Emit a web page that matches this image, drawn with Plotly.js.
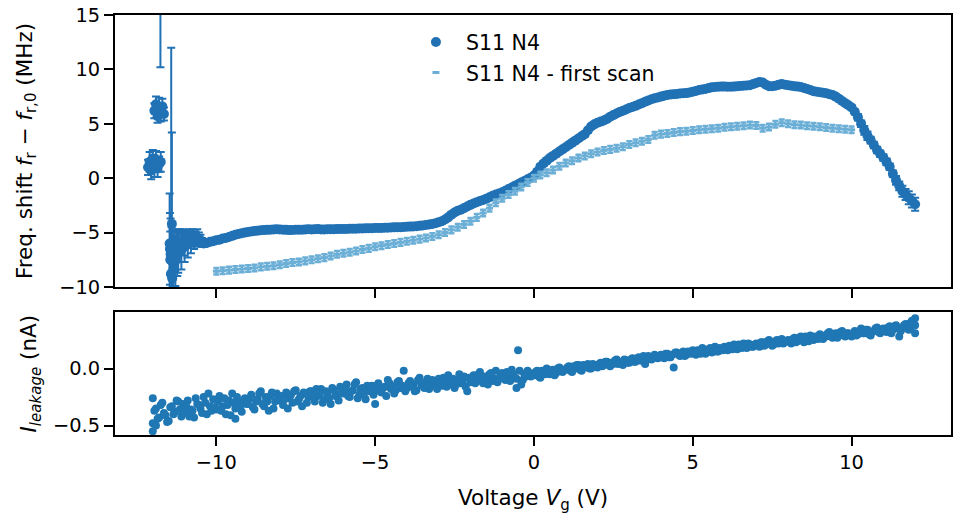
<!DOCTYPE html>
<html>
<head>
<meta charset="utf-8">
<script src="https://cdn.plot.ly/plotly-3.0.1.min.js"></script>
<style>html,body{margin:0;padding:0;background:#fff;}#chart{width:953px;height:514px;}</style>
</head>
<body>
<div id="chart"></div>
<script>
// ---------- DATA ----------
// S11 N4: irregular points at the left end (x, y, error)
const darkEdgeX = [-12.15,-12.1,-12.05,-12.0,-11.95,-11.9,-11.85,-11.8,-11.75,
  -11.95,-11.9,-11.85,-11.8,-11.75,-11.7,-11.65,
  -11.76,-11.42,-11.40,
  -11.47,-11.46,-11.45,-11.44,-11.43,-11.41,-11.39,-11.37,-11.35,-11.32,-11.29,-11.26,-11.23,-11.2,-11.15,-11.1,-11.05,-11.0,
  -10.95,-10.9,-10.85,-10.8,-10.75,-10.7,-10.65,-10.6,-10.55,-10.5,-10.45,-10.4];
const darkEdgeY = [1.0,1.5,0.7,1.8,1.1,1.6,0.9,1.3,1.5,
  6.2,6.8,5.7,6.5,6.0,6.6,5.9,
  22,-6.0,-4.2,
  -6.0,-6.5,-7.5,-7.0,-8.8,-6.5,-9.2,-7.0,-8.3,-6.2,-7.6,-5.8,-7.0,-6.7,-6.2,-6.6,-5.9,-6.3,
  -5.6,-6.1,-5.5,-5.9,-5.4,-5.7,-5.5,-5.5,-5.6,-5.7,-5.9,-6.0];
const darkEdgeErr = [0.7,0.9,0.8,0.8,1.0,0.9,0.8,0.7,0.9,
  0.7,0.7,0.6,0.9,0.8,0.7,0.6,
  11.8,18,8.4,
  4.6,3.3,2.6,3.3,1.5,2.0,1.3,2.3,1.6,1.4,2.3,1.0,2.0,2.0,1.5,1.8,1.2,1.4,
  0.8,1.2,0.8,1.0,0.7,0.8,0.6,0.8,0.6,0.5,0.4,0.3];
// S11 N4: regular sweep from -10.3 V to 12.0 V in 0.1 V steps
const darkStart = -10.3, darkStep = 0.1;
const darkY = [
  -5.95,-5.85,-5.8,-5.7,-5.65,-5.55,-5.5,-5.4,-5.3,-5.2,
  -5.12,-5.05,-5.0,-4.95,-4.9,-4.85,-4.82,-4.78,-4.77,-4.75,
  -4.73,-4.72,-4.7,-4.72,-4.74,-4.75,-4.77,-4.76,-4.74,-4.74,
  -4.73,-4.72,-4.7,-4.71,-4.7,-4.68,-4.72,-4.71,-4.7,-4.7,
  -4.69,-4.68,-4.67,-4.66,-4.66,-4.65,-4.64,-4.64,-4.63,-4.62,
  -4.61,-4.6,-4.6,-4.58,-4.58,-4.57,-4.56,-4.55,-4.53,-4.52,
  -4.51,-4.5,-4.48,-4.47,-4.45,-4.43,-4.41,-4.38,-4.34,-4.3,
  -4.25,-4.2,-4.13,-4.05,-3.95,-3.8,-3.6,-3.35,-3.15,-3.0,
  -2.9,-2.75,-2.6,-2.45,-2.32,-2.2,-2.1,-2.0,-1.88,-1.75,
  -1.62,-1.5,-1.4,-1.3,-1.15,-1.0,-0.85,-0.7,-0.55,-0.4,
  -0.25,-0.1,0.05,0.25,0.6,1.05,1.35,1.6,1.85,2.05,
  2.25,2.45,2.65,2.85,3.05,3.25,3.45,3.65,3.85,4.05,
  4.4,4.75,4.95,5.1,5.2,5.3,5.45,5.65,5.8,5.95,
  6.08,6.2,6.32,6.45,6.55,6.65,6.78,6.9,7.02,7.15,
  7.25,7.35,7.42,7.5,7.58,7.65,7.7,7.72,7.75,7.78,
  7.8,7.82,7.88,7.95,8.02,8.1,8.15,8.2,8.28,8.35,
  8.38,8.4,8.42,8.42,8.4,8.4,8.42,8.45,8.48,8.5,
  8.52,8.55,8.65,8.75,8.85,8.8,8.6,8.45,8.45,8.5,
  8.58,8.65,8.6,8.55,8.5,8.45,8.42,8.38,8.3,8.2,
  8.1,8.0,7.95,7.9,7.85,7.8,7.72,7.65,7.5,7.3,
  7.1,6.9,6.7,6.5,6.1,5.6,5.0,4.4,3.9,3.5,
  3.05,2.6,2.25,1.9,1.5,1.05,0.4,-0.2,-0.7,-1.2,
  -1.5,-1.8,-2.1,-2.4];
const darkErrBody = 0.2;          // error on the smooth part of the sweep
const darkErrTail = [0.3,0.3,0.4,0.4,0.3,0.3,0.3,0.3,0.3,0.3,
  0.3,0.3,0.4,0.4,0.5,0.5,0.6,0.6,0.6];   // 10.2 V .. 12.0 V
// S11 N4 - first scan: -10.0 V to 10.0 V in 0.2 V steps
const lightStart = -10.0, lightStep = 0.2;
const lightY = [-8.55,-8.5,-8.45,-8.4,-8.35,-8.3,-8.25,-8.15,-8.1,-8.05,
  -7.95,-7.85,-7.75,-7.7,-7.6,-7.5,-7.4,-7.3,-7.15,-7.0,
  -6.9,-6.8,-6.7,-6.55,-6.45,-6.3,-6.2,-6.1,-6.0,-5.9,
  -5.8,-5.7,-5.6,-5.5,-5.35,-5.2,-5.0,-4.75,-4.5,-4.25,
  -3.95,-3.6,-3.2,-2.75,-2.25,-1.85,-1.5,-1.2,-0.8,-0.4,
  0.0,0.3,0.5,0.75,1.1,1.4,1.6,1.85,2.05,2.25,
  2.4,2.55,2.65,2.75,2.9,3.1,3.25,3.4,3.55,3.95,
  4.05,4.1,4.2,4.28,4.32,4.38,4.45,4.5,4.55,4.6,
  4.68,4.72,4.78,4.82,4.88,4.85,4.6,4.7,4.95,5.1,
  5.0,4.92,4.88,4.82,4.78,4.72,4.65,4.6,4.55,4.5,
  4.45];
const lightErr = 0.3;
// Leakage current, first pass: -12.0 V to 12.0 V in 0.1 V steps
const leakStart = -12.0, leakStep = 0.1;
const leakY = [
  -0.48,-0.35,-0.43,-0.30,-0.41,-0.46,-0.33,-0.38,-0.29,-0.42,
  -0.39,-0.28,-0.36,-0.43,-0.31,-0.35,-0.25,-0.40,-0.33,-0.27,
  -0.36,-0.24,-0.33,-0.40,-0.28,-0.22,-0.35,-0.30,-0.38,-0.26,
  -0.31,-0.23,-0.36,-0.27,-0.20,-0.33,-0.29,-0.24,-0.35,-0.22,
  -0.28,-0.32,-0.21,-0.26,-0.30,-0.19,-0.27,-0.33,-0.22,-0.25,
  -0.20,-0.29,-0.24,-0.18,-0.27,-0.22,-0.31,-0.19,-0.23,-0.16,
  -0.22,-0.14,-0.25,-0.19,-0.12,-0.23,-0.17,-0.27,-0.20,-0.15,
  -0.19,-0.13,-0.21,-0.16,-0.10,-0.18,-0.22,-0.12,-0.17,-0.02,
  -0.17,-0.11,-0.14,-0.19,-0.08,-0.15,-0.12,-0.18,-0.10,-0.14,
  -0.09,-0.15,-0.12,-0.06,-0.14,-0.17,-0.10,-0.13,-0.07,-0.20,
  -0.12,-0.06,-0.10,-0.03,-0.13,-0.08,-0.05,-0.11,-0.02,-0.09,
  -0.04,-0.10,-0.06,-0.01,-0.08,0.16,-0.14,-0.05,-0.02,-0.07,
  -0.06,-0.02,-0.08,-0.03,0.00,-0.05,-0.01,-0.04,0.01,-0.03,
  -0.01,0.02,-0.03,0.00,0.03,-0.02,0.01,0.04,0.00,0.02,
  0.01,0.05,0.03,0.06,0.02,0.04,0.08,0.05,0.03,0.07,
  0.05,0.09,0.06,0.10,0.07,0.04,0.11,0.08,0.12,0.09,
  0.12,0.09,0.13,0.10,0.01,0.14,0.11,0.15,0.12,0.14,
  0.16,0.12,0.15,0.18,0.13,0.17,0.14,0.19,0.15,0.17,
  0.19,0.16,0.18,0.21,0.17,0.20,0.22,0.18,0.21,0.19,
  0.22,0.19,0.23,0.21,0.25,0.20,0.24,0.22,0.26,0.23,
  0.25,0.22,0.27,0.24,0.28,0.23,0.26,0.29,0.25,0.27,
  0.30,0.26,0.28,0.32,0.27,0.31,0.29,0.33,0.28,0.31,
  0.28,0.33,0.30,0.35,0.31,0.34,0.29,0.33,0.36,0.31,
  0.35,0.32,0.37,0.34,0.38,0.28,0.36,0.39,0.34,0.37,
  0.44];
// Leakage current, second pass: -11.95 V to 11.95 V in 0.1 V steps
const leak2Start = -11.95, leak2Step = 0.1;
const leak2Y = [
  -0.37,-0.44,-0.32,-0.39,-0.47,-0.34,-0.40,-0.28,-0.36,-0.31,
  -0.33,-0.42,-0.37,-0.26,-0.32,-0.39,-0.30,-0.22,-0.37,-0.34,
  -0.29,-0.37,-0.26,-0.32,-0.41,-0.30,-0.25,-0.34,-0.28,-0.31,
  -0.26,-0.34,-0.29,-0.22,-0.31,-0.25,-0.37,-0.21,-0.29,-0.26,
  -0.24,-0.27,-0.35,-0.23,-0.20,-0.29,-0.24,-0.21,-0.30,-0.20,
  -0.25,-0.18,-0.22,-0.30,-0.20,-0.26,-0.17,-0.24,-0.28,-0.21,
  -0.18,-0.24,-0.20,-0.14,-0.26,-0.18,-0.22,-0.15,-0.19,-0.23,
  -0.15,-0.20,-0.17,-0.24,-0.13,-0.16,-0.19,-0.11,-0.15,-0.20,
  -0.13,-0.16,-0.20,-0.10,-0.14,-0.17,-0.09,-0.15,-0.12,-0.18,
  -0.13,-0.08,-0.16,-0.11,-0.09,-0.14,-0.05,-0.12,-0.16,-0.08,
  -0.09,-0.13,-0.05,-0.11,-0.07,-0.14,-0.04,-0.09,-0.12,-0.06,
  -0.08,-0.03,-0.11,-0.05,-0.09,-0.02,-0.10,-0.07,-0.04,-0.06,
  -0.03,-0.07,-0.02,-0.05,-0.01,-0.04,-0.06,0.00,-0.02,-0.01,
  0.01,-0.02,0.02,0.03,-0.01,0.03,0.02,0.00,0.04,0.03,
  0.04,0.02,0.06,0.03,0.05,0.07,0.04,0.06,0.08,0.05,
  0.08,0.06,0.09,0.07,0.11,0.08,0.10,0.09,0.11,0.10,
  0.11,0.13,0.10,0.12,0.14,0.12,0.13,0.11,0.15,0.13,
  0.14,0.16,0.13,0.17,0.15,0.18,0.16,0.15,0.18,0.16,
  0.18,0.20,0.17,0.19,0.21,0.18,0.20,0.22,0.19,0.21,
  0.21,0.23,0.20,0.24,0.22,0.21,0.25,0.23,0.22,0.24,
  0.24,0.26,0.23,0.27,0.25,0.28,0.24,0.26,0.28,0.26,
  0.27,0.29,0.31,0.28,0.30,0.27,0.32,0.29,0.31,0.30,
  0.31,0.29,0.33,0.31,0.34,0.30,0.32,0.35,0.32,0.34,
  0.33,0.36,0.31,0.37,0.35,0.33,0.38,0.35,0.40,0.38];
// extra scattered leakage points
const leakExtraX = [-12.0,-12.0,-11.9,-9.4,-5.0,-0.55,12.0,12.0,11.9];
const leakExtraY = [-0.26,-0.55,-0.50,-0.44,-0.31,-0.17,0.38,0.31,0.42];

const legendNames = ['S11 N4', 'S11 N4 - first scan'];
const xTicks = [-10, -5, 0, 5, 10];
const xTickText = ['\u221210', '\u22125', '0', '5', '10'];
const yTicks = [-10, -5, 0, 5, 10, 15];
const yTickText = ['\u221210', '\u22125', '0', '5', '10', '15'];
const y2Ticks = [-0.5, 0.0];
const y2TickText = ['\u22120.5', '0.0'];

// ---------- BUILD ----------
const seq = (s, d, n) => Array.from({length: n}, (_, i) => +(s + i * d).toFixed(3));
const darkErr = Array(darkY.length - darkErrTail.length).fill(darkErrBody).concat(darkErrTail);
const darkXAll = darkEdgeX.concat(seq(darkStart, darkStep, darkY.length));
const darkYAll = darkEdgeY.concat(darkY);
const darkErrAll = darkEdgeErr.concat(darkErr);
const lightX = seq(lightStart, lightStep, lightY.length);
const leakX = seq(leakStart, leakStep, leakY.length)
  .concat(seq(leak2Start, leak2Step, leak2Y.length)).concat(leakExtraX);
const leakYAll = leakY.concat(leak2Y).concat(leakExtraY);

const DARK = '#2171b5', LIGHT = '#6baed6', LEAK = '#1f77b4';
const FONT = 'DejaVu Sans, sans-serif';
const TICK = 19.4, LAB = 21.5;

const traces = [
  {
    x: darkXAll, y: darkYAll, type: 'scatter', mode: 'markers', name: legendNames[0],
    xaxis: 'x', yaxis: 'y', legendgroup: 'a',
    marker: {color: DARK, size: 10, line: {width: 0}},
    error_y: {type: 'data', array: darkErrAll, visible: true, color: DARK, thickness: 2, width: 4}
  },
  {
    x: lightX, y: lightY, type: 'scatter', mode: 'markers', name: legendNames[1],
    xaxis: 'x', yaxis: 'y', legendgroup: 'b',
    marker: {color: LIGHT, size: 5, symbol: 'line-ew', line: {color: LIGHT, width: 3}},
    error_y: {type: 'constant', value: lightErr, visible: true, color: LIGHT, thickness: 2.5, width: 3}
  },
  {
    x: leakX, y: leakYAll, type: 'scatter', mode: 'markers', showlegend: false,
    xaxis: 'x2', yaxis: 'y2',
    marker: {color: LEAK, size: 8, line: {width: 0}}
  }
];

const axisCommon = {
  showline: true, linecolor: 'black', linewidth: 2, mirror: true,
  ticks: 'outside', ticklen: 9, tickwidth: 2, tickcolor: 'black',
  showgrid: false, zeroline: false,
  tickfont: {family: FONT, size: TICK, color: 'black'}
};

const layout = {
  width: 953, height: 514,
  margin: {l: 115, r: 2, t: 15, b: 79},
  paper_bgcolor: 'white', plot_bgcolor: 'white',
  font: {family: FONT, size: TICK, color: 'black'},
  showlegend: true,
  legend: {x: 0.348, y: 0.983, xanchor: 'left', yanchor: 'top', bgcolor: 'rgba(0,0,0,0)',
           itemwidth: 50,
           font: {family: FONT, size: 20.5, color: 'black'}, traceorder: 'grouped', tracegroupgap: 1},
  xaxis: Object.assign({}, axisCommon, {
    domain: [0, 1], anchor: 'y', range: [-13.19, 13.13],
    tickvals: xTicks, ticktext: xTickText, showticklabels: false
  }),
  yaxis: Object.assign({}, axisCommon, {
    domain: [0.3524, 1], anchor: 'x', range: [-10, 15],
    tickvals: yTicks, ticktext: yTickText,
    title: {text: 'Freq. shift <i>f</i><sub>r</sub> − <i>f</i><sub>r,0</sub> (MHz)', standoff: 21,
            font: {family: FONT, size: LAB, color: 'black'}}
  }),
  xaxis2: Object.assign({}, axisCommon, {
    domain: [0, 1], anchor: 'y2', range: [-13.19, 13.13], matches: 'x',
    tickvals: xTicks, ticktext: xTickText,
    title: {text: 'Voltage <i>V</i><sub>g</sub> (V)', standoff: 17,
            font: {family: FONT, size: LAB, color: 'black'}}
  }),
  yaxis2: Object.assign({}, axisCommon, {
    domain: [0, 0.2921], anchor: 'x2', range: [-0.583, 0.493],
    tickvals: y2Ticks, ticktext: y2TickText,
    title: {text: '<i>I</i><sub><i>leakage</i></sub> (nA)', standoff: 10,
            font: {family: FONT, size: LAB, color: 'black'}}
  })
};

Plotly.newPlot('chart', traces, layout, {staticPlot: true, displayModeBar: false});
</script>
</body>
</html>
